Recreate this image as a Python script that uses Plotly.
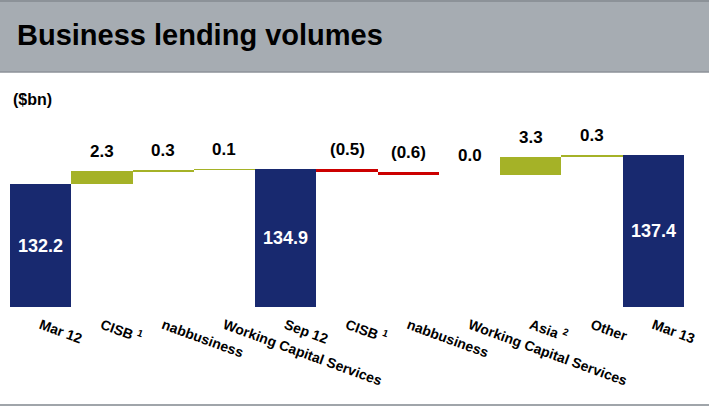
import plotly.graph_objects as go

categories = ["Mar 12", "CISB <sup>1</sup>", "nabbusiness", "Working Capital Services",
              "Sep 12", "CISB <sup>1</sup>", "nabbusiness", "Working Capital Services",
              "Asia <sup>2</sup>", "Other", "Mar 13"]
values = [132.2, 2.3, 0.3, 0.1, 134.9, -0.5, -0.6, 0.0, 3.3, 0.3, 137.4]
measures = ["total", "rel", "rel", "rel", "total", "rel", "rel", "rel", "rel", "rel", "total"]
labels = ["132.2", "2.3", "0.3", "0.1", "134.9", "(0.5)", "(0.6)", "0.0", "3.3", "0.3", "137.4"]

NAVY = "#18296F"
GREEN = "#A5B227"
RED = "#CC0000"

W, H = 709, 407
L, R, T, B = 10, 25, 129, 100
YMIN, YMAX = 110.2, 142.1

xs = list(range(len(categories)))
bases, heights, colors = [], [], []
running = 0.0
for v, m in zip(values, measures):
    if m == "total":
        bases.append(0)
        heights.append(v)
        colors.append(NAVY)
        running = v
    else:
        if v >= 0:
            bases.append(running)
            heights.append(v)
            colors.append(GREEN)
        else:
            bases.append(running + v)
            heights.append(-v)
            colors.append(RED)
        running += v

fig = go.Figure()
fig.add_trace(go.Bar(x=xs, y=heights, base=bases, marker=dict(color=colors, line=dict(width=0)),
                     width=1.0, hoverinfo="skip"))

annotations = []
for i, (b, h, m, lab) in enumerate(zip(bases, heights, measures, labels)):
    if m == "total":
        annotations.append(dict(x=i, y=(YMIN + b + h) / 2, xref="x", yref="y", text=f"<b>{lab}</b>",
                                showarrow=False, font=dict(family="Liberation Sans", size=18, color="white"),
                                xanchor="center", yanchor="middle"))
    else:
        annotations.append(dict(x=i, y=b + h, xref="x", yref="y", text=f"<b>{lab}</b>",
                                showarrow=False, font=dict(family="Liberation Sans", size=17, color="black"),
                                xanchor="center", yanchor="bottom", yshift=8))

pw, ph = W - L - R, H - T - B
def px(x):
    return (x - L) / pw
def py(y):
    return (H - B - y) / ph

annotations.append(dict(x=px(11), y=py(100), xref="paper", yref="paper", text="<b>($bn)</b>",
                        showarrow=False, xanchor="left", yanchor="middle",
                        font=dict(family="Liberation Sans", size=16, color="black")))

shapes = [
    dict(type="rect", xref="paper", yref="paper", x0=px(0), x1=px(W), y0=py(72), y1=py(0),
         fillcolor="#A6ACB2", line=dict(width=0), layer="below"),
    dict(type="line", xref="paper", yref="paper", x0=px(0), x1=px(W), y0=py(1), y1=py(1),
         line=dict(color="#8C9298", width=2)),
    dict(type="line", xref="paper", yref="paper", x0=px(0), x1=px(W), y0=py(72), y1=py(72),
         line=dict(color="#8C9298", width=1.5)),
    dict(type="line", xref="paper", yref="paper", x0=px(0), x1=px(W), y0=py(405), y1=py(405),
         line=dict(color="#A0A5AA", width=2)),
]

fig.update_layout(
    width=W, height=H,
    margin=dict(l=L, r=R, t=T, b=B),
    paper_bgcolor="white", plot_bgcolor="white",
    showlegend=False, bargap=0,
    title=dict(text="<b>Business lending volumes</b>", x=17 / W, xref="container", xanchor="left",
               y=1 - 35 / H, yref="container", yanchor="middle",
               font=dict(family="Liberation Sans", size=29, color="black")),
    xaxis=dict(tickmode="array", tickvals=xs, ticktext=[f"<b>{c}</b>" for c in categories],
               tickangle=20, range=[-0.5, len(categories) - 0.5], showgrid=False, zeroline=False,
               showline=False, ticks="outside", ticklen=4, tickcolor="rgba(0,0,0,0)",
               tickfont=dict(family="Liberation Sans", size=14, color="black")),
    yaxis=dict(range=[YMIN, YMAX], visible=False, showgrid=False, zeroline=False),
    annotations=annotations, shapes=shapes,
)

fig.write_html("out.html")
